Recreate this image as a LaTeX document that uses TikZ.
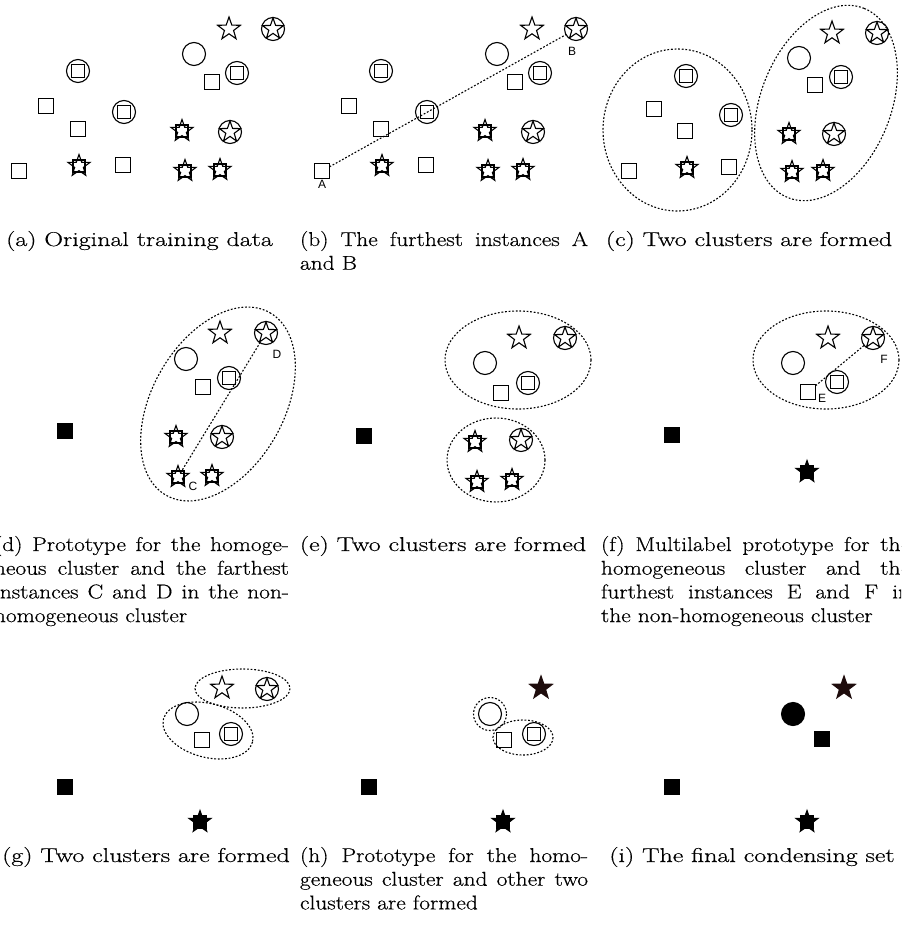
\documentclass[tikz,border=0pt]{standalone}
\usepackage{fontspec}
\usepackage{graphicx}
\usetikzlibrary{shapes.geometric}
\newfontfamily\labfont{Liberation Sans}
\newfontfamily\capff{Latin Modern Roman}[FakeBold=0.4]
\definecolor{dk}{RGB}{30,12,12}
\newcommand\capsx{1.17}
\newcommand\capfont{\fontsize{20}{23.7}\selectfont}
\newcommand\cl[1]{\makebox[\linewidth][s]{#1}}
\newcommand\capbox[2]{\scalebox{\capsx}[1]{\parbox[t]{#1}{\capff\capfont #2}}}
\newcommand\capone[1]{\scalebox{1.3}[1]{\capff\capfont #1}}
\tikzset{
  shp/.style={draw, line width=1.1pt, inner sep=0pt, outer sep=0pt},
  sqr/.style={shp, rectangle, minimum size=15pt},
  sqin/.style={shp, rectangle, minimum size=13.5pt},
  sqss/.style={shp, rectangle, minimum size=12pt},
  circ/.style={shp, circle, minimum size=23pt},
  strn/.style={shp, star, star points=5, star point ratio=2.5, minimum size=24pt},
  strin/.style={strn, minimum size=22pt},
  strs/.style={strn, minimum size=23pt},
  fil/.style={fill=black},
  dotE/.style={line width=1.1pt, dash pattern=on 1.8pt off 1.8pt},
  lab/.style={font=\labfont\fontsize{12}{14}\selectfont, inner sep=0pt},
  capn/.style={anchor=base west, inner sep=0pt, outer sep=0pt},
  capc/.style={anchor=base, inner sep=0pt, outer sep=0pt}
}
\newcommand\Psq[2]{\node[sqr] (#1) at (#2) {};}
\newcommand\Pcs[2]{\node[circ] (#1) at (#2) {}; \node[sqin] at (#2) {};}
\newcommand\Psc[2]{\node[circ] (#1) at (#2) {}; \node[strin] at (#2) {};}
\newcommand\Pss[2]{\node[strs] (#1) at (#2) {}; \node[sqss] at (#2) {};}
\newcommand\Pst[2]{\node[strn] (#1) at (#2) {};}
\newcommand\Pci[2]{\node[circ] (#1) at (#2) {};}
\newcommand\Pfsq[2]{\node[sqr,fil] (#1) at (#2) {};}
\newcommand\Pfss[2]{\node[strs,fil] (#1) at (#2) {}; \node[sqss,fil] at (#2) {};}
\newcommand\Pfst[2]{\node[strn,fill=dk,draw=dk] (#1) at (#2) {};}
\newcommand\Pfci[2]{\node[circ,fil] (#1) at (#2) {};}
\newcommand\basicset[1]{%
  \Pst{#1-1}{229,29}
  \Psc{#1-2}{273,29}
  \Pci{#1-3}{194,54}
  \Pcs{#1-4}{78,71}
  \Psq{#1-5}{212,82}
  \Pcs{#1-6}{237,73}
  \Psq{#1-7}{46,106}
  \Pcs{#1-8}{124,112}
  \Psq{#1-9}{78,129}
  \Pss{#1-10}{182,131}
  \Psc{#1-11}{230,132}
  \Psq{#1-12}{19,171}
  \Pss{#1-13}{79,166}
  \Psq{#1-14}{123,165}
  \Pss{#1-15}{185,171}
  \Pss{#1-16}{220,170}}
\begin{document}
\begin{tikzpicture}[x=1pt,y=-1pt]
\useasboundingbox (0,0) rectangle (901,949);
\clip (0,0) rectangle (901,949);
% (a)
\basicset{a}
% (b)
\begin{scope}[xshift=303pt]
\basicset{b}
\end{scope}
\draw[dotE] (b-12) -- (b-2);
\node[lab] (labA) at (322,184) {A};
\node[lab] (labB) at (572,51) {B};
% (c)
\Pst{c1}{832,33}
\Psc{c2}{877,33}
\Pci{c3}{799,58}
\Pcs{c4}{841,77}
\Psq{c5}{815,85}
\Pcs{c6}{686,76}
\Psq{c7}{654,109}
\Pcs{c8}{731,115}
\Psq{c9}{685,131}
\Pss{c10}{789,134}
\Psc{c11}{834,134}
\Psq{c12}{629,171}
\Pss{c13}{687,168}
\Psq{c14}{729,167}
\Pss{c15}{792,172}
\Pss{c16}{823,171}
\draw[dotE] (677.5,130) ellipse (74.5 and 81);
\draw[dotE, rotate around={68:(826,103)}] (826,103) ellipse (102 and 65);
% (d)
\Pfsq{d0}{65,431}
\Pst{d1}{220,333}
\Psc{d2}{266,333}
\Pci{d3}{186,359}
\Psq{d4}{203,387}
\Pcs{d5}{229,378}
\Pss{d6}{176,437}
\Psc{d7}{222,437}
\Pss{d8}{178,477}
\Pss{d9}{212,476}
\draw[dotE] (d8) -- (d2);
\node[lab] (labC) at (193,486) {C};
\node[lab] (labD) at (277,354) {D};
\draw[dotE, rotate around={60.4:(218,404)}] (218,404) ellipse (105 and 66);
% (e)
\Pfsq{e0}{364,436}
\Pst{e1}{519,338}
\Psc{e2}{565,338}
\Pci{e3}{485,363}
\Psq{e4}{501,393}
\Pcs{e5}{528,383}
\Pss{e6}{475,442}
\Psc{e7}{521,440}
\Pss{e8}{477,482}
\Pss{e9}{512,480}
\draw[dotE] (518,360) ellipse (73 and 49);
\draw[dotE] (496,460) ellipse (49 and 42);
% (f)
\Pfsq{f0}{672,435}
\Pfss{f6}{807,472}
\Pst{f1}{828,338}
\Psc{f2}{873,338}
\Pci{f3}{793,363}
\Psq{f4}{808,392}
\Pcs{f5}{837,382}
\draw[dotE] (f4) -- (f2);
\node[lab] (labE) at (822,398) {E};
\node[lab] (labF) at (884,359) {F};
\draw[dotE] (826,360) ellipse (73 and 49);
% (g)
\Pfsq{g0}{65,787}
\Pst{g1}{222,688}
\Psc{g2}{267,689}
\Pci{g3}{187,714}
\Psq{g4}{202,740}
\Pcs{g5}{231,734}
\Pfss{g6}{200,822}
\draw[dotE] (242.5,688.5) ellipse (47.5 and 19.5);
\draw[dotE, rotate around={-14.5:(208,730.5)}] (208,730.5) ellipse (46 and 26.9);
% (h)
\Pfsq{h0}{369,787}
\Pfst{h1}{541,688}
\Pci{h3}{490,714}
\Psq{h4}{504,740}
\Pcs{h5}{534,734}
\Pfss{h6}{503,822}
\draw[dotE] (490,714) circle (16.5);
\draw[dotE] (523,737.5) ellipse (30 and 17.5);
% (i)
\Pfsq{i0}{672,787}
\Pfst{i1}{844,688}
\Pfci{i3}{793,714}
\Pfsq{i4}{822,739}
\Pfss{i6}{807,822}
% captions
\node[capc] (capa) at (139.5,246) {\capone{(a) Original training data}};
\node[capn] (capb) at (300,246) {\capbox{246.2pt}{\cl{(b) The furthest instances A}\\ and B}};
\node[capc] (capc) at (749,246) {\capone{(c) Two clusters are formed}};
\node[capn] (capd) at (-6,551) {\capbox{252.1pt}{\cl{(d) Prototype for the homoge-}\\ \cl{neous cluster and the farthest}\\ \cl{instances C and D in the non-}\\ homogeneous cluster}};
\node[capc] (cape) at (443,551) {\capone{(e) Two clusters are formed}};
\node[capn] (capf) at (601,551) {\capbox{264.1pt}{\cl{(f) Multilabel prototype for the}\\ \cl{homogeneous cluster and the}\\ \cl{furthest instances E and F in}\\ the non-homogeneous cluster}};
\node[capc] (capg) at (146,862) {\capone{(g) Two clusters are formed}};
\node[capn] (caph) at (300,862) {\capbox{246.2pt}{\cl{(h) Prototype for the homo-}\\ \cl{geneous cluster and other two}\\ clusters are formed}};
\node[capc] (capi) at (752,862) {\capone{(i) The final condensing set}};
\end{tikzpicture}
\end{document}
